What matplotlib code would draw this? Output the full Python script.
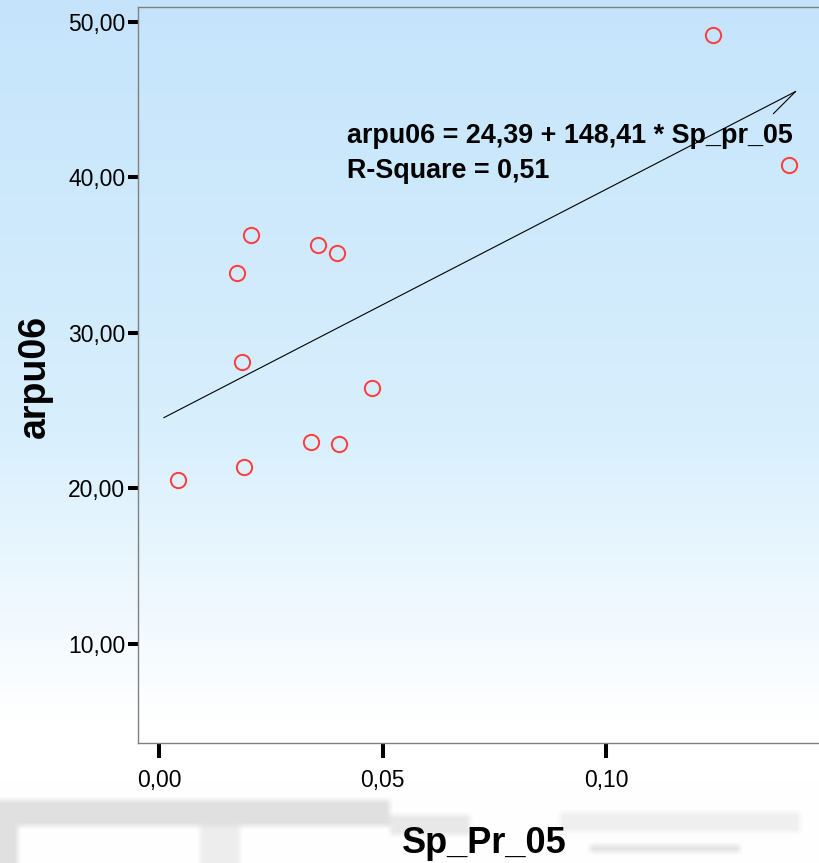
import numpy as np
import matplotlib
matplotlib.use('Agg')
import matplotlib.pyplot as plt
from matplotlib.ticker import FuncFormatter

# data
sp_pr_05 = [0.0042, 0.0190, 0.0174, 0.0186, 0.0206, 0.0356, 0.0398, 0.0340, 0.0403, 0.0477, 0.1239, 0.1409]
arpu06 = [20.55, 21.40, 33.86, 28.14, 36.30, 35.66, 35.14, 23.00, 22.86, 26.46, 49.16, 40.80]

intercept = 24.39
slope = 148.41
r_square = 0.51
line_x = [0.0011, 0.1424]

x_ticks = [0.00, 0.05, 0.10]
y_ticks = [10, 20, 30, 40, 50]


def komma(v, pos=None):
    return f'{v:.2f}'.replace('.', ',')


def box_blur(a, k):
    # einfache weichzeichnung fuer den grauen streifen, raender mit edge-padding
    p = k // 2
    kern = np.ones(k) / k
    out = np.empty_like(a)
    for c in range(a.shape[2]):
        ch = np.pad(a[:, :, c], p, mode='edge')
        ch = np.apply_along_axis(lambda m: np.convolve(m, kern, mode='valid'), 0, ch)
        ch = np.apply_along_axis(lambda m: np.convolve(m, kern, mode='valid'), 1, ch)
        out[:, :, c] = ch
    return out


plt.rcParams['font.family'] = ['Liberation Sans', 'DejaVu Sans']

W, H = 819, 863
fig = plt.figure(figsize=(W / 100, H / 100), dpi=100)

# hintergrund: blauer verlauf nach weiss, unten grauer streifen
rows = np.arange(H)
stops_y = [0, 430, 720, H]
r = np.interp(rows, stops_y, [197, 216, 255, 255])
g = np.interp(rows, stops_y, [228, 239, 255, 255])
b = np.interp(rows, stops_y, [251, 253, 255, 255])
img = np.ones((H, W, 3))
img[:, :, 0] = (r / 255)[:, None]
img[:, :, 1] = (g / 255)[:, None]
img[:, :, 2] = (b / 255)[:, None]
band = np.ones((H - 780, W, 3))
band[20:46, 0:390] = 0.88
band[46:, 0:18] = 0.88
band[46:, 200:240] = 0.93
band[35:55, 390:470] = 0.91
band[32:52, 560:800] = 0.94
band[65:72, 590:740] = 0.89
img[780:] = box_blur(band, 7)
fig.figimage(img, xo=0, yo=0, origin='upper', zorder=-10)

ax = fig.add_axes([138 / W, 1 - 743 / H, 1 - 138 / W, (743 - 7) / H])
ax.set_facecolor('none')
ax.set_xlim(-0.0047, 0.14765)
ax.set_ylim(3.63, 50.96)

for side in ['left', 'top', 'bottom']:
    ax.spines[side].set_color('#808080')
    ax.spines[side].set_linewidth(1.0)
ax.spines['right'].set_visible(False)

ax.set_xticks(x_ticks)
ax.set_yticks(y_ticks)
ax.xaxis.set_major_formatter(FuncFormatter(komma))
ax.yaxis.set_major_formatter(FuncFormatter(komma))
ax.tick_params(axis='y', direction='out', length=7.2, width=2.9, pad=2, labelsize=16.5, colors='black')
ax.tick_params(axis='x', direction='out', length=10.8, width=2.9, pad=8, labelsize=16.5, colors='black')

# regressionsgerade
lx = np.array(line_x)
ax.plot(lx, intercept + slope * lx, color='black', lw=0.8)
ax.annotate('', xy=(lx[-1], intercept + slope * lx[-1]), xytext=(-16, -16),
            textcoords='offset points',
            arrowprops=dict(arrowstyle='-', lw=0.8, color='black', shrinkA=0, shrinkB=0))

ax.plot(sp_pr_05, arpu06, 'o', ms=11, mfc='none', mec='#ff3b3b', mew=1.4, clip_on=False)

eq = f'arpu06 = {komma(intercept)} + {komma(slope)} * Sp_pr_05'
ax.text(0.042, 42.22, eq, fontsize=19.4, fontweight='bold', va='baseline', ha='left')
ax.text(0.042, 39.97, f'R-Square = {komma(r_square)}', fontsize=19.4, fontweight='bold',
        va='baseline', ha='left')

fig.text(35 / W, 1 - 376 / H, 'arpu06', rotation=90, fontsize=27, fontweight='bold',
         ha='center', va='center')
fig.text(484 / W, 1 - 853 / H, 'Sp_Pr_05', fontsize=26, fontweight='bold',
         ha='center', va='baseline')

fig.savefig('out.png', dpi=100)
